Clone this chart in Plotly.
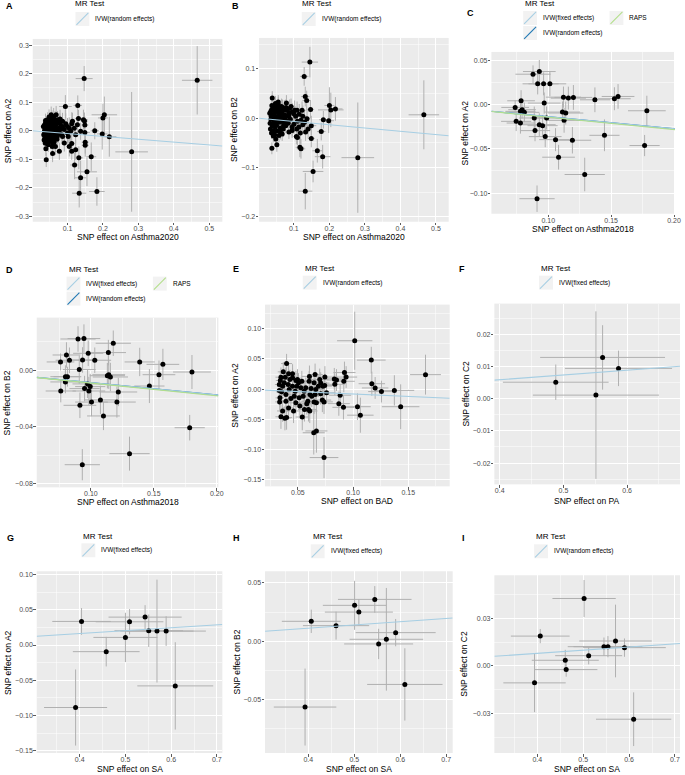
import plotly.graph_objects as go

W, H = 685, 775
FONT = "Liberation Sans, Arial, sans-serif"
PALETTE = ["#A6CEE3", "#1F78B4", "#B2DF8A"]
ERR_COLOR = "#B0B0B0"

# ---------------- Panel A: Asthma2020 -> A2 ----------------
A_x = [0.466, 0.147, 0.094, 0.129, 0.204, 0.200, 0.281, 0.218, 0.198, 0.177,
       0.183, 0.133, 0.137, 0.155, 0.120, 0.132, 0.167, 0.040, 0.145, 0.148,
       0.131, 0.149, 0.149, 0.150, 0.150, 0.123, 0.112, 0.112, 0.105, 0.102,
       0.077, 0.058, 0.057, 0.039, 0.091, 0.100, 0.119, 0.128, 0.114, 0.086,
       0.072, 0.137, 0.123, 0.086, 0.072, 0.058, 0.049, 0.066, 0.063, 0.053,
       0.032, 0.035, 0.038, 0.039, 0.041, 0.044, 0.044, 0.047, 0.049, 0.051,
       0.051, 0.053, 0.056, 0.056, 0.058, 0.060, 0.061, 0.063, 0.065, 0.066,
       0.067, 0.069, 0.071, 0.073, 0.075, 0.077, 0.079, 0.081, 0.084, 0.086,
       0.034, 0.037, 0.042, 0.046, 0.052, 0.033, 0.036, 0.038, 0.043, 0.048,
       0.054, 0.061, 0.068, 0.079, 0.091, 0.095, 0.100, 0.105, 0.109, 0.112,
       0.040, 0.045, 0.050, 0.055, 0.060, 0.065, 0.070, 0.047, 0.053, 0.058,
       0.062, 0.068, 0.035, 0.042, 0.074, 0.078, 0.048, 0.056, 0.064, 0.036]
A_y = [0.177, 0.183, 0.085, 0.089, 0.056, 0.045, -0.074, -0.021, -0.011, 0.000,
       -0.213, -0.219, -0.165, -0.144, -0.120, -0.095, -0.091, -0.102, 0.039, 0.034,
       0.043, 0.020, -0.006, -0.040, -0.051, -0.067, -0.072, -0.045, -0.055, -0.020,
       -0.072, -0.080, -0.055, -0.063, -0.043, 0.015, 0.009, 0.021, 0.033, 0.033,
       0.039, -0.002, -0.014, -0.020, -0.008, -0.043, -0.032, -0.055, -0.020, 0.009,
       0.015, -0.002, 0.027, -0.020, 0.009, 0.039, -0.008, 0.021, 0.004, -0.020,
       0.033, -0.008, 0.018, 0.044, 0.001, 0.027, -0.026, 0.009, 0.039, -0.008,
       0.021, 0.001, -0.020, 0.029, 0.009, -0.006, 0.025, 0.006, -0.014, 0.015,
       -0.032, -0.043, -0.037, -0.049, -0.037, -0.014, 0.006, 0.036, 0.025, 0.048,
       0.056, 0.050, 0.056, 0.041, 0.004, 0.025, -0.008, 0.009, -0.002, 0.025,
       0.000, 0.012, -0.015, 0.025, -0.010, 0.015, -0.030, -0.025, 0.035, 0.010,
       -0.040, 0.032, 0.020, -0.045, -0.012, 0.030, 0.028, -0.030, 0.002, -0.025]
A_xse = [0.043, 0.024, 0.018, 0.012, 0.036, 0.014, 0.046, 0.020, 0.015, 0.012,
         0.022, 0.020, 0.016, 0.028, 0.012, 0.012, 0.014, 0.006, 0.012, 0.010,
         0.010, 0.010, 0.014, 0.010, 0.010, 0.010, 0.008, 0.008, 0.008, 0.008,
         0.007, 0.006, 0.006, 0.005, 0.008, 0.008, 0.010, 0.010, 0.008, 0.008,
         0.007, 0.010, 0.010, 0.008, 0.007, 0.006, 0.005, 0.006, 0.006, 0.005,
         0.004, 0.004, 0.005, 0.005, 0.005, 0.005, 0.005, 0.006, 0.005, 0.006,
         0.006, 0.006, 0.006, 0.006, 0.006, 0.007, 0.006, 0.007, 0.007, 0.007,
         0.007, 0.007, 0.007, 0.008, 0.008, 0.008, 0.008, 0.008, 0.009, 0.009,
         0.004, 0.005, 0.005, 0.005, 0.006, 0.004, 0.004, 0.005, 0.005, 0.005,
         0.006, 0.006, 0.007, 0.008, 0.009, 0.009, 0.010, 0.010, 0.011, 0.011,
         0.005, 0.005, 0.006, 0.006, 0.006, 0.007, 0.007, 0.005, 0.006, 0.006,
         0.006, 0.007, 0.004, 0.005, 0.008, 0.008, 0.005, 0.006, 0.007, 0.004]
A_yse = [0.120, 0.044, 0.040, 0.035, 0.064, 0.050, 0.210, 0.070, 0.055, 0.030,
         0.050, 0.050, 0.060, 0.050, 0.050, 0.040, 0.050, 0.025, 0.035, 0.030,
         0.030, 0.030, 0.035, 0.040, 0.040, 0.035, 0.030, 0.030, 0.035, 0.030,
         0.030, 0.030, 0.030, 0.025, 0.030, 0.030, 0.030, 0.030, 0.030, 0.030,
         0.030, 0.030, 0.030, 0.030, 0.030, 0.030, 0.025, 0.030, 0.030, 0.030,
         0.022, 0.020, 0.024, 0.022, 0.025, 0.026, 0.024, 0.025, 0.023, 0.026,
         0.027, 0.025, 0.026, 0.028, 0.024, 0.027, 0.026, 0.028, 0.030, 0.027,
         0.029, 0.028, 0.030, 0.031, 0.030, 0.030, 0.032, 0.031, 0.033, 0.034,
         0.022, 0.023, 0.024, 0.025, 0.026, 0.021, 0.022, 0.024, 0.025, 0.027,
         0.029, 0.030, 0.031, 0.033, 0.035, 0.036, 0.037, 0.038, 0.040, 0.040,
         0.022, 0.024, 0.025, 0.026, 0.027, 0.028, 0.030, 0.024, 0.026, 0.027,
         0.028, 0.030, 0.021, 0.023, 0.031, 0.032, 0.025, 0.026, 0.029, 0.022]
A_methods = ["IVW(random effects)"]
A_slopes = [-0.100]

# ---------------- Panel B: Asthma2020 -> B2 ----------------
B_x = [0.466, 0.145, 0.129, 0.132, 0.136, 0.200, 0.204, 0.217, 0.280, 0.181,
       0.166, 0.154, 0.132, 0.117, 0.120, 0.038, 0.052, 0.149, 0.149, 0.147,
       0.198, 0.183, 0.177, 0.107, 0.110, 0.095, 0.086, 0.058, 0.067, 0.049,
       0.039, 0.056, 0.079, 0.092, 0.109, 0.123, 0.137, 0.125, 0.114, 0.133,
       0.140, 0.100, 0.086, 0.072, 0.077,
       0.032, 0.035, 0.038, 0.039, 0.041, 0.044, 0.044, 0.047, 0.049, 0.051,
       0.051, 0.053, 0.056, 0.056, 0.058, 0.060, 0.061, 0.063, 0.065, 0.066,
       0.067, 0.069, 0.071, 0.073, 0.075, 0.077, 0.079, 0.081, 0.084, 0.086,
       0.034, 0.037, 0.042, 0.046, 0.052, 0.033, 0.036, 0.038, 0.043, 0.048,
       0.040, 0.045, 0.050, 0.055, 0.060, 0.065, 0.070, 0.047, 0.053, 0.058,
       0.062, 0.068, 0.035, 0.042, 0.074, 0.078, 0.090, 0.095, 0.100, 0.105,
       0.110, 0.115, 0.120, 0.125, 0.095, 0.088, 0.102, 0.108, 0.118, 0.130]
B_y = [0.007, 0.114, 0.085, 0.044, 0.036, 0.026, 0.017, 0.019, -0.080, -0.078,
       -0.066, -0.108, -0.148, -0.059, -0.062, -0.061, -0.054, -0.041, -0.015, 0.018,
       -0.005, -0.003, -0.027, -0.037, -0.039, -0.025, -0.028, -0.035, -0.032, -0.042,
       0.041, 0.033, 0.031, 0.024, 0.016, 0.016, -0.001, -0.013, -0.018, -0.028,
       -0.022, 0.009, 0.005, 0.016, -0.015,
       0.010, -0.002, 0.018, -0.015, 0.006, 0.024, -0.008, 0.014, 0.002, -0.014,
       0.021, -0.006, 0.012, 0.028, 0.000, 0.018, -0.020, 0.006, 0.024, -0.006,
       0.014, 0.000, -0.014, 0.020, 0.006, -0.004, 0.016, 0.004, -0.010, 0.010,
       -0.022, -0.030, -0.026, -0.034, -0.026, -0.010, 0.004, 0.026, 0.016, 0.030,
       0.000, 0.008, -0.010, 0.018, -0.008, 0.010, -0.022, -0.018, 0.024, 0.006,
       -0.028, 0.022, 0.014, -0.036, -0.008, 0.022, -0.002, 0.012, -0.012, 0.004,
       -0.006, 0.008, -0.004, 0.004, -0.018, 0.020, 0.016, -0.022, -0.030, -0.008]
B_xse = [0.043, 0.023, 0.012, 0.012, 0.012, 0.014, 0.036, 0.020, 0.046, 0.022,
         0.014, 0.029, 0.020, 0.012, 0.012, 0.005, 0.006, 0.010, 0.014, 0.010,
         0.015, 0.012, 0.012, 0.008, 0.008, 0.008, 0.008, 0.006, 0.007, 0.005,
         0.005, 0.006, 0.008, 0.008, 0.010, 0.010, 0.010, 0.010, 0.010, 0.010,
         0.010, 0.008, 0.008, 0.007, 0.007,
         0.004, 0.004, 0.005, 0.005, 0.005, 0.005, 0.005, 0.006, 0.005, 0.006,
         0.006, 0.006, 0.006, 0.006, 0.006, 0.007, 0.006, 0.007, 0.007, 0.007,
         0.007, 0.007, 0.007, 0.008, 0.008, 0.008, 0.008, 0.008, 0.009, 0.009,
         0.004, 0.005, 0.005, 0.005, 0.006, 0.004, 0.004, 0.005, 0.005, 0.005,
         0.005, 0.005, 0.006, 0.006, 0.006, 0.007, 0.007, 0.005, 0.006, 0.006,
         0.006, 0.007, 0.004, 0.005, 0.008, 0.008, 0.009, 0.009, 0.010, 0.010,
         0.011, 0.011, 0.012, 0.012, 0.009, 0.009, 0.010, 0.010, 0.011, 0.012]
B_yse = [0.070, 0.031, 0.019, 0.020, 0.020, 0.037, 0.035, 0.024, 0.112, 0.024,
         0.024, 0.022, 0.037, 0.020, 0.020, 0.012, 0.014, 0.018, 0.020, 0.018,
         0.025, 0.018, 0.018, 0.016, 0.016, 0.015, 0.014, 0.014, 0.014, 0.014,
         0.014, 0.014, 0.016, 0.016, 0.018, 0.018, 0.018, 0.018, 0.016, 0.018,
         0.018, 0.016, 0.015, 0.015, 0.015,
         0.012, 0.011, 0.013, 0.012, 0.013, 0.014, 0.013, 0.014, 0.013, 0.014,
         0.015, 0.014, 0.014, 0.015, 0.013, 0.015, 0.014, 0.015, 0.016, 0.015,
         0.016, 0.015, 0.016, 0.017, 0.016, 0.016, 0.017, 0.017, 0.018, 0.018,
         0.012, 0.012, 0.013, 0.014, 0.014, 0.011, 0.012, 0.013, 0.014, 0.015,
         0.012, 0.013, 0.014, 0.014, 0.015, 0.015, 0.016, 0.013, 0.014, 0.015,
         0.015, 0.016, 0.011, 0.013, 0.017, 0.017, 0.018, 0.019, 0.020, 0.020,
         0.021, 0.021, 0.022, 0.022, 0.019, 0.018, 0.020, 0.021, 0.022, 0.023]
B_methods = ["IVW(random effects)"]
B_slopes = [-0.066]

# ---------------- Panel C: Asthma2018 -> A2 ----------------
C_x = [0.0737, 0.0745, 0.0784, 0.0779, 0.0792, 0.0810, 0.0779, 0.0879, 0.0929, 0.0916,
       0.0963, 0.1013, 0.0968, 0.0889, 0.0895, 0.0929, 0.0955, 0.0987, 0.0976, 0.1058,
       0.1082, 0.1113, 0.1121, 0.1126, 0.1139, 0.1160, 0.1200, 0.1192, 0.1290, 0.1371,
       0.1447, 0.1526, 0.1555, 0.1784, 0.1766, 0.0911]
C_y = [-0.0030, -0.0188, 0.0045, -0.0075, -0.0056, -0.0086, -0.0207, 0.0346, 0.0376, 0.0237,
       0.0237, 0.0237, 0.0019, -0.0150, -0.0293, -0.0226, -0.0237, -0.0150, -0.0361, -0.0395,
       -0.0594, -0.0083, 0.0086, -0.0177, -0.0094, 0.0075, 0.0083, -0.0402, -0.0790, 0.0056,
       -0.0346, 0.0068, 0.0094, -0.0068, -0.0462, -0.1064]
C_xse = [0.011, 0.012, 0.011, 0.012, 0.011, 0.012, 0.011, 0.014, 0.013, 0.012,
         0.012, 0.013, 0.013, 0.012, 0.012, 0.013, 0.012, 0.013, 0.013, 0.013,
         0.013, 0.014, 0.014, 0.013, 0.014, 0.014, 0.015, 0.015, 0.016, 0.012,
         0.012, 0.013, 0.013, 0.015, 0.012, 0.014]
C_yse = [0.008, 0.011, 0.012, 0.011, 0.010, 0.011, 0.012, 0.010, 0.013, 0.012,
         0.013, 0.014, 0.012, 0.013, 0.012, 0.013, 0.012, 0.013, 0.012, 0.013,
         0.014, 0.012, 0.012, 0.014, 0.013, 0.013, 0.014, 0.015, 0.019, 0.014,
         0.018, 0.013, 0.014, 0.017, 0.012, 0.015]
C_methods = ["IVW(fixed effects)", "IVW(random effects)", "RAPS"]
C_slopes = [-0.136, -0.136, -0.141]

# ---------------- Panel D: Asthma2018 -> B2 ----------------
D_x = [0.0759, 0.0761, 0.0806, 0.0798, 0.0814, 0.0798, 0.0830, 0.0898, 0.0945, 0.0979,
       0.0934, 0.0908, 0.0913, 0.0974, 0.0950, 0.0984, 0.0995, 0.1005, 0.1031, 0.1076,
       0.1100, 0.1139, 0.1131, 0.1142, 0.1155, 0.1178, 0.1218, 0.1207, 0.1307, 0.1388,
       0.1465, 0.1541, 0.1572, 0.1803, 0.1785, 0.0932]
D_y = [0.0059, -0.0146, 0.0108, -0.0045, -0.0045, -0.0082, 0.0071, 0.0221, 0.0224, 0.0120,
       0.0073, 0.0005, -0.0247, -0.0096, -0.0129, -0.0146, -0.0115, -0.0224, 0.0071, -0.0209,
       -0.0322, 0.0125, -0.0038, -0.0031, -0.0047, 0.0191, -0.0153, -0.0224, -0.0588, 0.0059,
       -0.0111, -0.0031, 0.0042, -0.0012, -0.0405, -0.0666]
D_xse = [0.011, 0.012, 0.011, 0.012, 0.011, 0.012, 0.011, 0.014, 0.013, 0.012,
         0.012, 0.013, 0.013, 0.012, 0.012, 0.013, 0.012, 0.013, 0.013, 0.013,
         0.013, 0.014, 0.014, 0.013, 0.014, 0.014, 0.015, 0.015, 0.016, 0.012,
         0.012, 0.013, 0.013, 0.015, 0.012, 0.014]
D_yse = [0.006, 0.008, 0.009, 0.008, 0.007, 0.008, 0.009, 0.009, 0.010, 0.009,
         0.009, 0.010, 0.009, 0.010, 0.009, 0.010, 0.009, 0.010, 0.009, 0.010,
         0.010, 0.009, 0.009, 0.010, 0.010, 0.009, 0.010, 0.011, 0.012, 0.010,
         0.012, 0.010, 0.011, 0.012, 0.009, 0.011]
D_methods = ["IVW(fixed effects)", "IVW(random effects)", "RAPS"]
D_slopes = [-0.087, -0.087, -0.090]

# ---------------- Panel E: BAD -> A2 ----------------
E_x = [0.1015, 0.1165, 0.1170, 0.1200, 0.1257, 0.1374, 0.1431, 0.1656, 0.1040, 0.1066,
       0.0913, 0.0883, 0.0871, 0.0922, 0.0937, 0.0916, 0.0830, 0.0850, 0.0835, 0.0745,
       0.0743, 0.0760, 0.0728, 0.0707, 0.0737, 0.0722, 0.0737, 0.0644, 0.0668, 0.0605,
       0.0610, 0.0626, 0.0647, 0.0656, 0.0596, 0.0608, 0.0560, 0.0540, 0.0518, 0.0548,
       0.0590, 0.0476, 0.0482, 0.0461, 0.0416, 0.0398, 0.0383, 0.0347, 0.0398, 0.0368,
       0.0347, 0.0332, 0.0338, 0.0335, 0.0362, 0.0452, 0.0482, 0.0506, 0.0536, 0.0572,
       0.0602, 0.0620, 0.0662, 0.0686, 0.0707, 0.0452, 0.0422, 0.0392, 0.0377, 0.0428,
       0.0413, 0.0362, 0.0353, 0.0437, 0.0467, 0.0392, 0.0416, 0.0386, 0.0452, 0.0497,
       0.0527, 0.0557, 0.0512, 0.0491, 0.0581, 0.0647, 0.0656, 0.0668, 0.0698, 0.0332,
       0.0341]
E_y = [0.0800, 0.0480, 0.0090, 0.0020, -0.0040, -0.0020, -0.0290, 0.0240, -0.0290, -0.0430,
       -0.0300, -0.0100, -0.0240, 0.0275, 0.0200, 0.0130, 0.0170, 0.0150, 0.0080, 0.0200,
       0.0060, -0.0060, 0.0050, 0.0100, -0.0210, -0.0180, -0.1130, -0.0720, -0.0690, 0.0210,
       -0.0090, -0.0115, -0.0210, -0.0090, -0.0335, -0.0360, -0.0335, -0.0460, -0.0280, -0.0115,
       -0.0200, -0.0033, -0.0225, -0.0360, -0.0310, -0.0470, -0.0480, -0.0456, 0.0423, 0.0286,
       0.0198, 0.0077, -0.0143, -0.0210, -0.0360, 0.0187, 0.0143, 0.0104, 0.0132, 0.0022,
       0.0132, 0.0011, -0.0005, 0.0049, -0.0077, 0.0050, -0.0005, -0.0088, 0.0104, 0.0160,
       0.0077, 0.0050, -0.0044, -0.0154, -0.0115, -0.0198, 0.0253, 0.0198, 0.0253, 0.0160,
       0.0022, -0.0033, -0.0143, 0.0050, -0.0240, 0.0104, 0.0242, -0.0225, 0.0160, -0.0022,
       0.0143]
E_xse = [0.016, 0.013, 0.012, 0.012, 0.012, 0.018, 0.017, 0.014, 0.012, 0.012,
         0.010, 0.010, 0.010, 0.010, 0.010, 0.010, 0.009, 0.009, 0.009, 0.008,
         0.008, 0.008, 0.008, 0.008, 0.008, 0.008, 0.013, 0.010, 0.010, 0.007,
         0.007, 0.007, 0.007, 0.007, 0.007, 0.007, 0.006, 0.006, 0.006, 0.006,
         0.006, 0.006, 0.006, 0.006, 0.005, 0.005, 0.005, 0.005, 0.005, 0.005,
         0.005, 0.004, 0.004, 0.004, 0.005, 0.005, 0.006, 0.006, 0.006, 0.006,
         0.007, 0.007, 0.007, 0.007, 0.008, 0.005, 0.005, 0.005, 0.005, 0.005,
         0.005, 0.005, 0.005, 0.005, 0.006, 0.005, 0.005, 0.005, 0.005, 0.006,
         0.006, 0.006, 0.006, 0.006, 0.007, 0.007, 0.007, 0.007, 0.008, 0.004,
         0.004]
E_yse = [0.048, 0.022, 0.020, 0.018, 0.018, 0.025, 0.037, 0.033, 0.022, 0.029,
         0.020, 0.018, 0.020, 0.018, 0.018, 0.018, 0.018, 0.018, 0.018, 0.018,
         0.018, 0.018, 0.018, 0.018, 0.020, 0.020, 0.034, 0.036, 0.036, 0.018,
         0.018, 0.018, 0.020, 0.018, 0.020, 0.020, 0.020, 0.022, 0.020, 0.018,
         0.018, 0.017, 0.018, 0.020, 0.018, 0.020, 0.020, 0.020, 0.016, 0.016,
         0.016, 0.016, 0.016, 0.016, 0.018, 0.016, 0.016, 0.016, 0.017, 0.017,
         0.017, 0.017, 0.018, 0.018, 0.018, 0.016, 0.016, 0.016, 0.016, 0.016,
         0.016, 0.016, 0.016, 0.016, 0.017, 0.017, 0.016, 0.016, 0.016, 0.017,
         0.017, 0.017, 0.017, 0.017, 0.018, 0.018, 0.018, 0.018, 0.018, 0.016,
         0.016]
E_methods = ["IVW(random effects)"]
E_slopes = [-0.080]

# ---------------- Panel F: PA -> C2 ----------------
F_x = [0.488, 0.551, 0.5615, 0.5865]
F_y = [0.0051, 0.0011, 0.0128, 0.0094]
F_xse = [0.083, 0.099, 0.098, 0.084]
F_yse = [0.0055, 0.026, 0.010, 0.0055]
F_methods = ["IVW(fixed effects)"]
F_slopes = [0.0147]

# ---------------- Panel G: SA -> A2 ----------------
G_x = [0.404, 0.391, 0.458, 0.500, 0.509, 0.543, 0.551, 0.569, 0.589, 0.609]
G_y = [0.0335, -0.0887, -0.0094, 0.0108, 0.0330, 0.0396, 0.0203, 0.0198, 0.0198, -0.0580]
G_xse = [0.064, 0.069, 0.073, 0.070, 0.074, 0.080, 0.075, 0.080, 0.087, 0.083]
G_yse = [0.019, 0.054, 0.021, 0.035, 0.018, 0.017, 0.023, 0.073, 0.021, 0.062]
G_methods = ["IVW(fixed effects)"]
G_slopes = [0.041]

# ---------------- Panel H: SA -> B2 ----------------
H_x = [0.4065, 0.393, 0.4604, 0.5007, 0.510, 0.5446, 0.553, 0.5698, 0.590, 0.610]
H_y = [0.0171, -0.0564, 0.0134, 0.0308, 0.0250, 0.0359, -0.0023, 0.0017, 0.0074, -0.0370]
H_xse = [0.064, 0.068, 0.072, 0.069, 0.074, 0.080, 0.075, 0.080, 0.087, 0.082]
H_yse = [0.010, 0.033, 0.012, 0.021, 0.011, 0.0114, 0.013, 0.044, 0.0117, 0.031]
H_methods = ["IVW(fixed effects)"]
H_slopes = [0.028]

# ---------------- Panel I: SA -> C2 ----------------
I_x = [0.4065, 0.394, 0.461, 0.463, 0.502, 0.512, 0.5453, 0.554, 0.5705, 0.590, 0.610]
I_y = [0.0189, -0.0107, 0.0036, -0.0023, 0.0427, 0.0065, 0.0122, 0.0122, 0.0158, 0.0116, -0.0337]
I_xse = [0.064, 0.068, 0.073, 0.068, 0.069, 0.073, 0.079, 0.075, 0.079, 0.090, 0.082]
I_yse = [0.0045, 0.0185, 0.0066, 0.0045, 0.0117, 0.0055, 0.0058, 0.0067, 0.023, 0.0058, 0.017]
I_methods = ["IVW(random effects)"]
I_slopes = [0.020]

# ---------------- layout of panels (pixel geometry) ----------------
PANELS = [
    dict(letter="A", x=A_x, y=A_y, xse=A_xse, yse=A_yse, methods=A_methods, slopes=A_slopes,
         xlab="SNP effect on Asthma2020", ylab="SNP effect on A2",
         px=(33, 224), py=(39, 222), xr=(0.002, 0.537), yr=(-0.319, 0.322),
         xdt=0.1, ydt=0.1, xf=".1f", yf=".1f",
         let=(4, 6), leg=(74, 4, 76, 12), xt=237, yt=8),
    dict(letter="B", x=B_x, y=B_y, xse=B_xse, yse=B_yse, methods=B_methods, slopes=B_slopes,
         xlab="SNP effect on Asthma2020", ylab="SNP effect on B2",
         px=(261, 452), py=(38, 222), xr=(0.002, 0.536), yr=(-0.21, 0.163),
         xdt=0.1, ydt=0.1, xf=".1f", yf=".1f",
         let=(232, 6), leg=(302, 4, 304, 12), xt=237, yt=236),
    dict(letter="C", x=C_x, y=C_y, xse=C_xse, yse=C_yse, methods=C_methods, slopes=C_slopes,
         xlab="SNP effect on Asthma2018", ylab="SNP effect on A2",
         px=(495, 680), py=(52, 214), xr=(0.0548, 0.2008), yr=(-0.1234, 0.0598),
         xdt=0.05, ydt=0.05, xf=".2f", yf=".2f",
         let=(468, 13), leg=(527, 4, 527, 11), xt=229, yt=468),
    dict(letter="D", x=D_x, y=D_y, xse=D_xse, yse=D_yse, methods=D_methods, slopes=D_slopes,
         xlab="SNP effect on Asthma2018", ylab="SNP effect on B2",
         px=(37, 220), py=(318, 488), xr=(0.057, 0.2013), yr=(-0.0826, 0.0372),
         xdt=0.05, ydt=0.04, xf=".2f", yf=".2f",
         let=(4, 270), leg=(67, 270, 67, 277), xt=503, yt=8),
    dict(letter="E", x=E_x, y=E_y, xse=E_xse, yse=E_yse, methods=E_methods, slopes=E_slopes,
         xlab="SNP effect on BAD", ylab="SNP effect on A2",
         px=(267, 453), py=(305, 487), xr=(0.0203, 0.1875), yr=(-0.1606, 0.1397),
         xdt=0.05, ydt=0.05, xf=".2f", yf=".2f",
         let=(233, 269), leg=(305, 269, 305, 276), xt=502, yt=237),
    dict(letter="F", x=F_x, y=F_y, xse=F_xse, yse=F_yse, methods=F_methods, slopes=F_slopes,
         xlab="SNP effect on PA", ylab="SNP effect on C2",
         px=(498, 685), py=(304, 485), xr=(0.3916, 0.683), yr=(-0.0266, 0.0295),
         xdt=0.1, ydt=0.01, xf=".1f", yf=".2f",
         let=(460, 269), leg=(543, 269, 543, 276), xt=502, yt=469),
    dict(letter="G", x=G_x, y=G_y, xse=G_xse, yse=G_yse, methods=G_methods, slopes=G_slopes,
         xlab="SNP effect on SA", ylab="SNP effect on A2",
         px=(37, 224), py=(572, 754), xr=(0.306, 0.712), yr=(-0.1533, 0.1047),
         xdt=0.1, ydt=0.05, xf=".1f", yf=".2f",
         let=(5, 539), leg=(82, 537, 82, 544), xt=770, yt=8),
    dict(letter="H", x=H_x, y=H_y, xse=H_xse, yse=H_yse, methods=H_methods, slopes=H_slopes,
         xlab="SNP effect on SA", ylab="SNP effect on B2",
         px=(267, 456), py=(572, 754), xr=(0.306, 0.714), yr=(-0.0958, 0.060),
         xdt=0.1, ydt=0.05, xf=".1f", yf=".2f",
         let=(233, 539), leg=(313, 537, 313, 545), xt=770, yt=239),
    dict(letter="I", x=I_x, y=I_y, xse=I_xse, yse=I_yse, methods=I_methods, slopes=I_slopes,
         xlab="SNP effect on SA", ylab="SNP effect on C2",
         px=(498, 685), py=(576, 754), xr=(0.3065, 0.711), yr=(-0.0551, 0.0574),
         xdt=0.1, ydt=0.03, xf=".1f", yf=".2f",
         let=(463, 539), leg=(538, 537, 538, 545), xt=770, yt=468),
]


def PX(v):
    return v / W


def PY(v):
    return 1 - v / H


fig = go.Figure()
shapes = []
annotations = []
layout_axes = {}

for i, p in enumerate(PANELS, start=1):
    sfx = "" if i == 1 else str(i)
    xa, ya = "x" + sfx, "y" + sfx
    common = dict(
        showgrid=True, gridcolor="white", gridwidth=1, zeroline=False, showline=False,
        ticks="outside", ticklen=2.5, tickwidth=0.8, tickcolor="#333333",
        tickfont=dict(family=FONT, size=7, color="#4D4D4D"),
        tick0=0,
    )
    layout_axes["xaxis" + sfx] = dict(
        common, domain=[PX(p["px"][0]), PX(p["px"][1])], range=list(p["xr"]),
        dtick=p["xdt"], tickformat=p["xf"], anchor=ya, ticklabelstandoff=-3,
        minor=dict(dtick=p["xdt"] / 2, tick0=0, showgrid=True, gridcolor="white", gridwidth=0.5),
    )
    layout_axes["yaxis" + sfx] = dict(
        common, domain=[PY(p["py"][1]), PY(p["py"][0])], range=list(p["yr"]),
        dtick=p["ydt"], tickformat=p["yf"], anchor=xa, ticklabelstandoff=-1,
        minor=dict(dtick=p["ydt"] / 2, tick0=0, showgrid=True, gridcolor="white", gridwidth=0.5),
    )

    # points with error bars
    fig.add_trace(go.Scatter(
        x=p["x"], y=p["y"], mode="markers", xaxis=xa, yaxis=ya, showlegend=False,
        marker=dict(color="black", size=5),
        error_x=dict(type="data", array=p["xse"], color=ERR_COLOR, thickness=1, width=0),
        error_y=dict(type="data", array=p["yse"], color=ERR_COLOR, thickness=1, width=0),
        hoverinfo="skip",
    ))

    # regression lines (intercept 0) across the panel
    order = list(range(len(p["methods"])))
    if len(order) == 3:
        order = [1, 0, 2]
    x0, x1 = p["xr"]
    for k in order:
        s = p["slopes"][k]
        fig.add_trace(go.Scatter(
            x=[x0, x1], y=[s * x0, s * x1], mode="lines", xaxis=xa, yaxis=ya,
            showlegend=False, line=dict(color=PALETTE[k], width=1.1), hoverinfo="skip",
        ))

    # panel letter
    annotations.append(dict(
        text="<b>%s</b>" % p["letter"], x=PX(p["let"][0]), y=PY(p["let"][1]),
        xref="paper", yref="paper", xanchor="left", yanchor="middle", showarrow=False,
        font=dict(family=FONT, size=9, color="black"),
    ))
    # axis titles
    annotations.append(dict(
        text=p["xlab"], x=PX((p["px"][0] + p["px"][1]) / 2), y=PY(p["xt"]),
        xref="paper", yref="paper", xanchor="center", yanchor="middle", showarrow=False,
        font=dict(family=FONT, size=8.5, color="black"),
    ))
    annotations.append(dict(
        text=p["ylab"], x=PX(p["yt"]), y=PY((p["py"][0] + p["py"][1]) / 2),
        xref="paper", yref="paper", xanchor="center", yanchor="middle", showarrow=False,
        textangle=-90, font=dict(family=FONT, size=8.5, color="black"),
    ))

    # legend
    tx, ty, kx, ky = p["leg"]
    annotations.append(dict(
        text="MR Test", x=PX(tx), y=PY(ty), xref="paper", yref="paper",
        xanchor="left", yanchor="middle", showarrow=False,
        font=dict(family=FONT, size=8, color="black"),
    ))
    for k, m in enumerate(p["methods"]):
        if k < 2:
            bx, by = kx, ky + 15 * k
        else:
            bx, by = kx + 87, ky
        shapes.append(dict(type="rect", xref="paper", yref="paper",
                           x0=PX(bx), x1=PX(bx + 14), y0=PY(by + 14), y1=PY(by),
                           fillcolor="#F2F2F2", line=dict(width=0), layer="below"))
        shapes.append(dict(type="line", xref="paper", yref="paper",
                           x0=PX(bx + 1), x1=PX(bx + 13), y0=PY(by + 13), y1=PY(by + 1),
                           line=dict(color=PALETTE[k], width=1.1)))
        annotations.append(dict(
            text=m, x=PX(bx + 18), y=PY(by + 7), xref="paper", yref="paper",
            xanchor="left", yanchor="middle", showarrow=False,
            font=dict(family=FONT, size=6.5, color="black"),
        ))

fig.update_layout(
    width=W, height=H, margin=dict(l=0, r=0, t=0, b=0),
    paper_bgcolor="white", plot_bgcolor="#EBEBEB",
    showlegend=False, shapes=shapes, annotations=annotations,
    font=dict(family=FONT),
    **layout_axes,
)

fig.write_html(
    "out.html",
    config={"displayModeBar": False, "staticPlot": True},
    post_script="document.body.style.margin='0px';document.body.style.overflow='hidden';",
)
